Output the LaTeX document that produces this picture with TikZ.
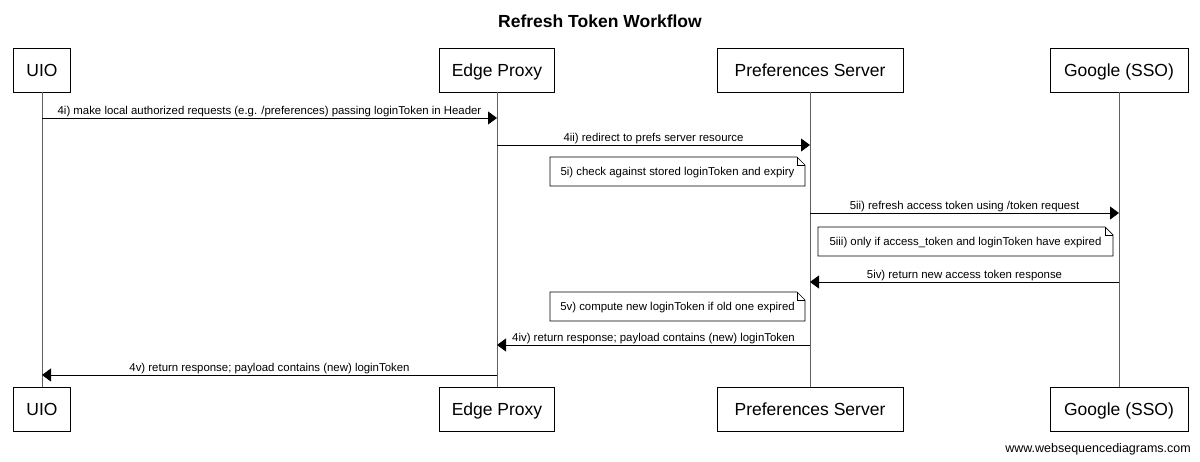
\documentclass[tikz,border=0pt]{standalone}
\usepackage{fontspec}
\setmainfont{Liberation Sans}
\usetikzlibrary{arrows.meta}
\begin{document}
\begin{tikzpicture}[x=1pt,y=-1pt,
  part/.style={draw=black, line width=0.8pt, fill=white, minimum height=44pt, inner sep=0pt,
    text height=12.5pt, text depth=0pt, font=\fontsize{17.5}{20}\selectfont},
  msg/.style={line width=0.8pt, -{Triangle[length=9pt,width=13pt]}},
  lbl/.style={font=\fontsize{11.4}{13}\selectfont, inner sep=0pt, anchor=base, yshift=3.5pt},
  notetxt/.style={font=\fontsize{11.4}{13}\selectfont, inner sep=0pt, anchor=base},
  life/.style={draw=gray!75!black, line width=0.8pt},
  notebox/.style={draw=black, line width=0.7pt, fill=white}]
\useasboundingbox (0,0) rectangle (1200,461);

\node[font=\bfseries\fontsize{17.5}{20}\selectfont, anchor=base, inner sep=0pt] (title) at (600,27) {Refresh Token Workflow};

% participants
\node[part, minimum width=57pt]  (uioT)  at (42,70)   {UIO};
\node[part, minimum width=115pt] (edgeT) at (497,70)  {Edge Proxy};
\node[part, minimum width=186pt] (prefT) at (810,70)  {Preferences Server};
\node[part, minimum width=138pt] (gooT)  at (1119,70) {Google (SSO)};
\node[part, minimum width=57pt]  (uioB)  at (42,409.5)  {UIO};
\node[part, minimum width=115pt] (edgeB) at (497,409.5) {Edge Proxy};
\node[part, minimum width=186pt] (prefB) at (810,409.5) {Preferences Server};
\node[part, minimum width=138pt] (gooB)  at (1119,409.5) {Google (SSO)};

\draw[life] (uioT.south) -- (uioB.north);
\draw[life] (edgeT.south) -- (edgeB.north);
\draw[life] (prefT.south) -- (prefB.north);
\draw[life] (gooT.south) -- (gooB.north);

% message anchor points on lifelines
\coordinate (u1) at (42,118);  \coordinate (e1) at (497,118);
\coordinate (e2) at (497,145); \coordinate (p2) at (810,145);
\coordinate (p3) at (810,213); \coordinate (g3) at (1119,213);
\coordinate (g4) at (1119,282); \coordinate (p4) at (810,282);
\coordinate (p5) at (810,345); \coordinate (e5) at (497,345);
\coordinate (e6) at (497,375); \coordinate (u6) at (42,375);

\draw[msg] (u1) -- node[lbl] {4i) make local authorized requests (e.g. /preferences) passing loginToken in Header} (e1);
\draw[msg] (e2) -- node[lbl] {4ii) redirect to prefs server resource} (p2);
\draw[msg] (p3) -- node[lbl] {5ii) refresh access token using /token request} (g3);
\draw[msg] (g4) -- node[lbl] {5iv) return new access token response} (p4);
\draw[msg] (p5) -- node[lbl] {4iv) return response; payload contains (new) loginToken} (e5);
\draw[msg] (e6) -- node[lbl] {4v) return response; payload contains (new) loginToken} (u6);

% notes
\draw[notebox] (550,157) -- (797,157) -- (805,165) -- (805,186) -- (550,186) -- cycle;
\draw[line width=0.7pt] (797,157) -- (797,165) -- (805,165);
\node[notetxt] (n1) at (677.5,175.5) {5i) check against stored loginToken and expiry};

\draw[notebox] (818,227) -- (1105,227) -- (1113,235) -- (1113,256) -- (818,256) -- cycle;
\draw[line width=0.7pt] (1105,227) -- (1105,235) -- (1113,235);
\node[notetxt] (n2) at (965.5,245.5) {5iii) only if access\_token and loginToken have expired};

\draw[notebox] (550,292) -- (797,292) -- (805,300) -- (805,321) -- (550,321) -- cycle;
\draw[line width=0.7pt] (797,292) -- (797,300) -- (805,300);
\node[notetxt] (n3) at (677.5,310.5) {5v) compute new loginToken if old one expired};

\node[font=\fontsize{12.5}{14}\selectfont, anchor=base east, inner sep=0pt] (foot) at (1191,452) {www.websequencediagrams.com};
\end{tikzpicture}
\end{document}
